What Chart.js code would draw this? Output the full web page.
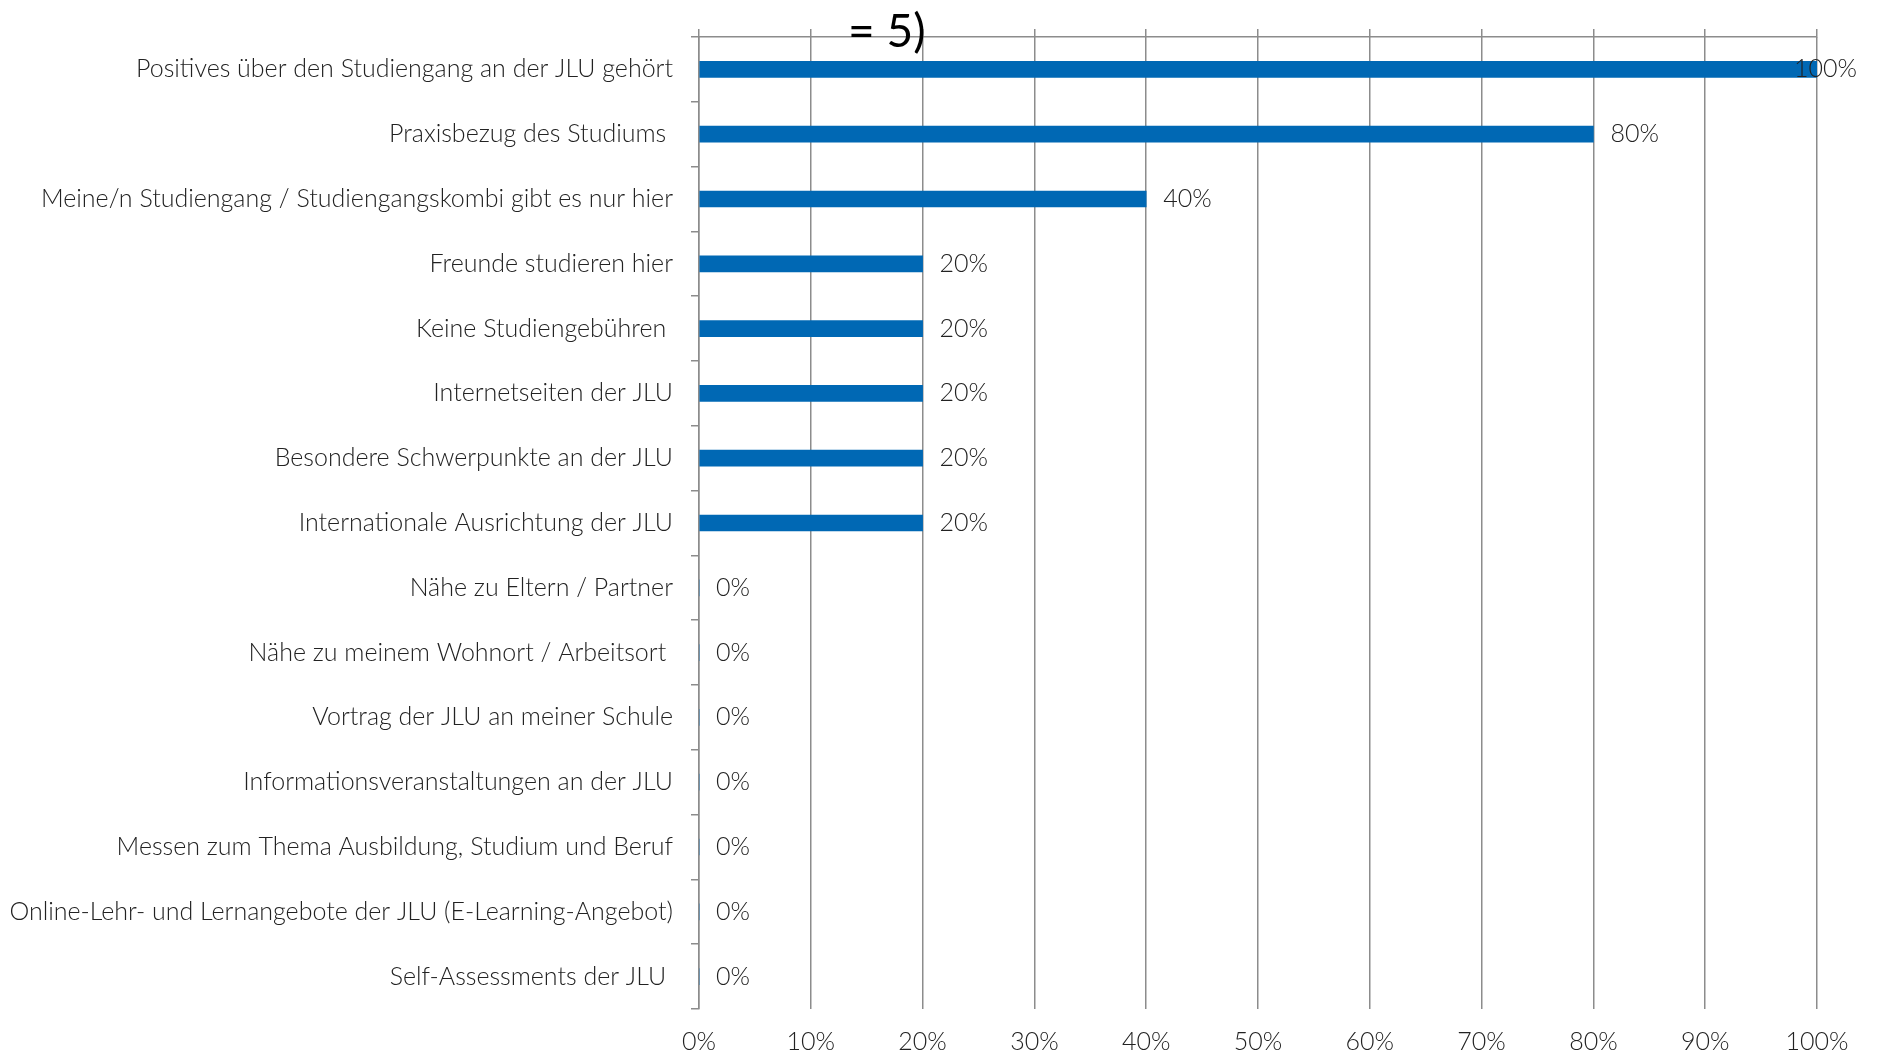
<!DOCTYPE html>
<html>
<head>
<meta charset="utf-8">
<script src="https://cdn.jsdelivr.net/npm/chart.js@4"></script>
<style>
    body { margin: 0; background: #fff; }
    #wrap { width: 1879px; height: 1056px; }
</style>
</head>
<body>
<div id="wrap"><canvas id="chart" width="1879" height="1056"></canvas></div>
<script>
// ── DATA ──
const categories = [
    'Positives über den Studiengang an der JLU gehört',
    'Praxisbezug des Studiums ',
    'Meine/n Studiengang / Studiengangskombi gibt es nur hier',
    'Freunde studieren hier',
    'Keine Studiengebühren ',
    'Internetseiten der JLU',
    'Besondere Schwerpunkte an der JLU',
    'Internationale Ausrichtung der JLU',
    'Nähe zu Eltern / Partner',
    'Nähe zu meinem Wohnort / Arbeitsort ',
    'Vortrag der JLU an meiner Schule',
    'Informationsveranstaltungen an der JLU',
    'Messen zum Thema Ausbildung, Studium und Beruf',
    'Online-Lehr- und Lernangebote der JLU (E-Learning-Angebot)',
    'Self-Assessments der JLU '
];
const shares = [100, 80, 40, 20, 20, 20, 20, 20, 0, 0, 0, 0, 0, 0, 0];
const titleText = '= 5)';

// ── STYLE ──
const FONT = 'Lato, "Open Sans", sans-serif';
const TEXT = '#222';
const GRID = '#8c8c8c';
const BAR  = '#0068b4';

// value labels to the right of each bar
const valueLabels = {
    id: 'valueLabels',
    afterDatasetsDraw(chart) {
        const ctx = chart.ctx;
        const meta = chart.getDatasetMeta(0);
        ctx.save();
        ctx.font = '300 25px ' + FONT;
        ctx.fillStyle = TEXT;
        ctx.textAlign = 'left';
        ctx.textBaseline = 'middle';
        meta.data.forEach((bar, i) => {
            const txt = shares[i] + '%';
            const w = ctx.measureText(txt).width;
            let x = bar.x + 17;
            if (x + w > chart.width - 22) x = chart.width - 22 - w;
            ctx.fillText(txt, x, bar.y);
        });
        ctx.restore();
    }
};

// leftover of the original title, cut at the top edge
const titleStub = {
    id: 'titleStub',
    afterDraw(chart) {
        const ctx = chart.ctx;
        ctx.save();
        ctx.font = '400 46px ' + FONT;
        ctx.fillStyle = '#000';
        ctx.textAlign = 'left';
        ctx.textBaseline = 'alphabetic';
        ctx.fillText(titleText, 848, 47);
        ctx.restore();
    }
};

new Chart(document.getElementById('chart'), {
    type: 'bar',
    data: {
        labels: categories,
        datasets: [{
            data: shares,
            backgroundColor: BAR,
            barThickness: 16,
            borderWidth: 0
        }]
    },
    options: {
        indexAxis: 'y',
        responsive: false,
        animation: false,
        layout: { padding: { left: 0, right: 62, top: 0, bottom: 0 } },
        plugins: {
            legend: { display: false },
            tooltip: { enabled: false }
        },
        scales: {
            x: {
                position: 'bottom',
                min: 0,
                max: 100,
                ticks: {
                    stepSize: 10,
                    callback: v => v + '%',
                    color: TEXT,
                    font: { family: FONT, size: 25, weight: 300 },
                    padding: 18
                },
                grid: { color: GRID, lineWidth: 1.5, drawTicks: false },
                border: { display: false },
                afterFit(s) { s.height = 47; }
            },
            x2: {
                type: 'linear',
                position: 'top',
                min: 0,
                max: 100,
                ticks: { stepSize: 10, display: false },
                grid: { drawOnChartArea: false, tickLength: 8, color: GRID, lineWidth: 1.5 },
                border: { display: true, color: GRID, width: 1.5 },
                afterFit(s) { s.height = 37; }
            },
            y: {
                ticks: {
                    color: TEXT,
                    font: { family: FONT, size: 25, weight: 300 },
                    padding: 18
                },
                grid: { offset: true, drawOnChartArea: false, tickLength: 8, color: GRID, lineWidth: 1.5 },
                border: { color: GRID, width: 1.5 },
                afterFit(s) { s.width = 699; }
            }
        }
    },
    plugins: [valueLabels, titleStub]
});
</script>
</body>
</html>
